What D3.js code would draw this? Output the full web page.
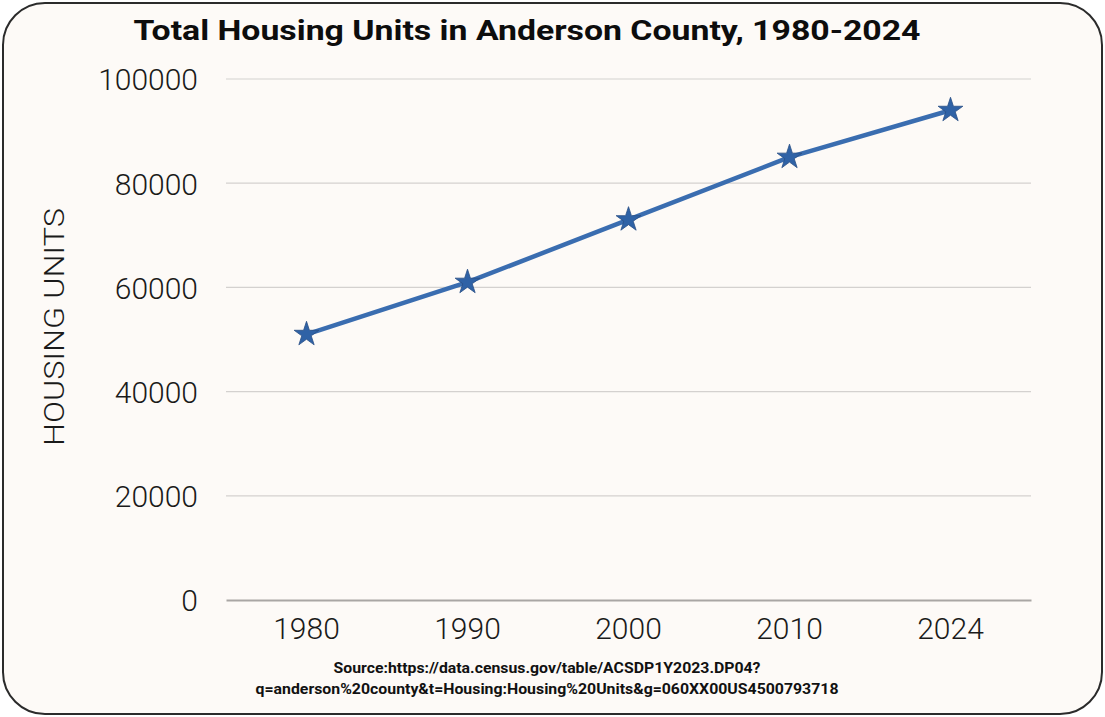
<!DOCTYPE html>
<html>
<head>
<meta charset="utf-8">
<script src="https://cdn.jsdelivr.net/npm/d3@7"></script>
<style>
  html, body { margin: 0; padding: 0; background: #ffffff; }
  svg { display: block; }
</style>
</head>
<body>
<svg id="chart" width="1105" height="717"></svg>
<script>
// Housing units by year
const years = ["1980", "1990", "2000", "2010", "2024"];
const units = [51000, 61000, 73000, 85000, 94000];
const yTicks = [0, 20000, 40000, 60000, 80000, 100000];

const titleText = "Total Housing Units in Anderson County, 1980-2024";
const yLabel = "HOUSING UNITS";
const sourceLines = [
  "Source:https://data.census.gov/table/ACSDP1Y2023.DP04?",
  "q=anderson%20county&t=Housing:Housing%20Units&g=060XX00US4500793718"
];

const W = 1105, H = 717;
const plot = { left: 226, right: 1031, top: 79, bottom: 600 };
const font = "'Century Gothic', Roboto, 'Open Sans', sans-serif";

const svg = d3.select("#chart");

// rounded card
svg.append("rect")
  .attr("x", 3).attr("y", 3)
  .attr("width", W - 6).attr("height", H - 6)
  .attr("rx", 42).attr("ry", 42)
  .attr("fill", "#fdfaf7")
  .attr("stroke", "#2b2b2b")
  .attr("stroke-width", 2);

const x = d3.scaleBand().domain(years).range([plot.left, plot.right]);
const y = d3.scaleLinear().domain([0, 100000]).range([plot.bottom, plot.top]);

// horizontal gridlines
svg.append("g")
  .selectAll("line")
  .data(yTicks.filter(d => d > 0))
  .join("line")
  .attr("x1", plot.left).attr("x2", plot.right)
  .attr("y1", d => y(d)).attr("y2", d => y(d))
  .attr("stroke", "#d4d1cf").attr("stroke-width", 1.2);

// y axis labels
const yAxis = svg.append("g")
  .attr("transform", `translate(${plot.left - 25},0)`)
  .call(d3.axisLeft(y).tickValues(yTicks).tickSize(0).tickFormat(d3.format("d")));
yAxis.select(".domain").remove();
yAxis.selectAll("text")
  .attr("font-family", font)
  .attr("font-weight", 300)
  .attr("font-size", 30)
  .attr("fill", "#1a1a1a")
  .attr("dy", "0.36em");

// x axis
const xAxis = svg.append("g")
  .attr("transform", `translate(0,${plot.bottom})`)
  .call(d3.axisBottom(x).tickSize(0).tickPadding(18));
xAxis.select(".domain")
  .attr("stroke", "#a9a6a4").attr("stroke-width", 2);
xAxis.selectAll("text")
  .attr("font-family", font)
  .attr("font-weight", 300)
  .attr("font-size", 30)
  .attr("fill", "#1a1a1a");

// line
const pts = years.map((yr, i) => [x(yr) + x.bandwidth() / 2, y(units[i])]);
svg.append("path")
  .datum(pts)
  .attr("d", d3.line())
  .attr("fill", "none")
  .attr("stroke", "#3a6db0")
  .attr("stroke-width", 4.5)
  .attr("stroke-linejoin", "round");

// star markers
const star = d3.symbol().type(d3.symbolStar).size(190);
svg.append("g")
  .selectAll("path")
  .data(pts)
  .join("path")
  .attr("d", star)
  .attr("transform", d => `translate(${d[0]},${d[1]})`)
  .attr("fill", "#2f62a6")
  .attr("stroke", "#2a4f85")
  .attr("stroke-width", 0.8);

// title
svg.append("text")
  .attr("x", 527).attr("y", 40)
  .attr("text-anchor", "middle")
  .attr("font-family", font)
  .attr("font-weight", 700)
  .attr("font-size", 28)
  .attr("fill", "#0d0d0d")
  .attr("textLength", 787)
  .attr("lengthAdjust", "spacingAndGlyphs")
  .text(titleText);

// y axis title
svg.append("text")
  .attr("transform", "translate(64,327) rotate(-90)")
  .attr("text-anchor", "middle")
  .attr("font-family", font)
  .attr("font-weight", 300)
  .attr("font-size", 27)
  .attr("fill", "#1a1a1a")
  .attr("textLength", 238)
  .attr("lengthAdjust", "spacingAndGlyphs")
  .text(yLabel);

// source note
const srcWidths = [427, 583];
svg.append("g")
  .selectAll("text")
  .data(sourceLines)
  .join("text")
  .attr("x", 547)
  .attr("y", (d, i) => 673 + i * 21)
  .attr("text-anchor", "middle")
  .attr("font-family", font)
  .attr("font-weight", 700)
  .attr("font-size", 14)
  .attr("fill", "#111")
  .attr("textLength", (d, i) => srcWidths[i])
  .attr("lengthAdjust", "spacingAndGlyphs")
  .text(d => d);
</script>
</body>
</html>
